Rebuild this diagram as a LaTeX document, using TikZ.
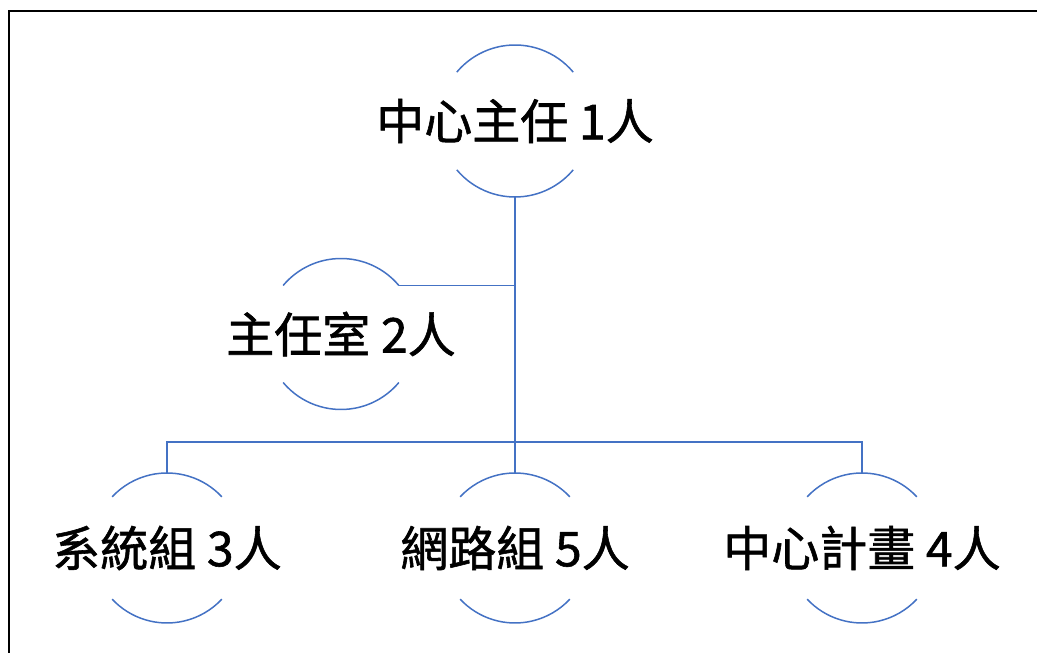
\documentclass[tikz,border=0pt]{standalone}
\usepackage{fontspec}
\newfontfamily\cjk[FakeBold=1.2]{Noto Sans CJK TC}
\begin{document}
\begin{tikzpicture}[x=1pt,y=1pt,
  lbl/.style={inner sep=0pt, outer sep=0pt, font=\cjk\fontsize{48}{52}\selectfont},
  ring/.style={draw=ringblue, line width=1.5pt},
  conn/.style={draw=ringblue, line width=1.5pt},
  frameline/.style={draw=black, line width=2pt}]
\definecolor{ringblue}{HTML}{4472C4}
\useasboundingbox (0,0) rectangle (1037,653);
\draw[frameline] (9,-5) -- (9,642) -- (1045,642);
% nodes (text)
\node[lbl] (top) at (515,532) {中心主任 1人};
\node[lbl] (off) at (341,319) {主任室 2人};
\node[lbl] (sys) at (167,105) {系統組 3人};
\node[lbl] (net) at (515,105) {網路組 5人};
\node[lbl] (plan) at (862,105) {中心計畫 4人};
% rings
\foreach \n/\r/\a in {top/76/40, off/75.5/40, sys/75/43, net/75/43, plan/75/43}{
  \draw[ring] ([shift={(\a:\r)}]\n.center) arc[start angle=\a, end angle=180-\a, radius=\r];
  \draw[ring] ([shift={(180+\a:\r)}]\n.center) arc[start angle=180+\a, end angle=360-\a, radius=\r];
}
\coordinate (topb) at ([yshift=-76pt]top.center);
\coordinate (offr) at ([shift={(40:75.5)}]off.center);
\coordinate (bus) at (515,211);
\coordinate (side) at (515,367);
\coordinate (sysb) at ([yshift=75pt]sys.center);
\coordinate (netb) at ([yshift=75pt]net.center);
\coordinate (planb) at ([yshift=75pt]plan.center);
\draw[conn] (topb) -- (bus);
\draw[conn] (offr) -- (offr -| side);
\draw[conn] (sysb) -- (sysb |- bus) -- (planb |- bus) -- (planb);
\draw[conn] (bus) -- (netb);
\end{tikzpicture}
\end{document}
